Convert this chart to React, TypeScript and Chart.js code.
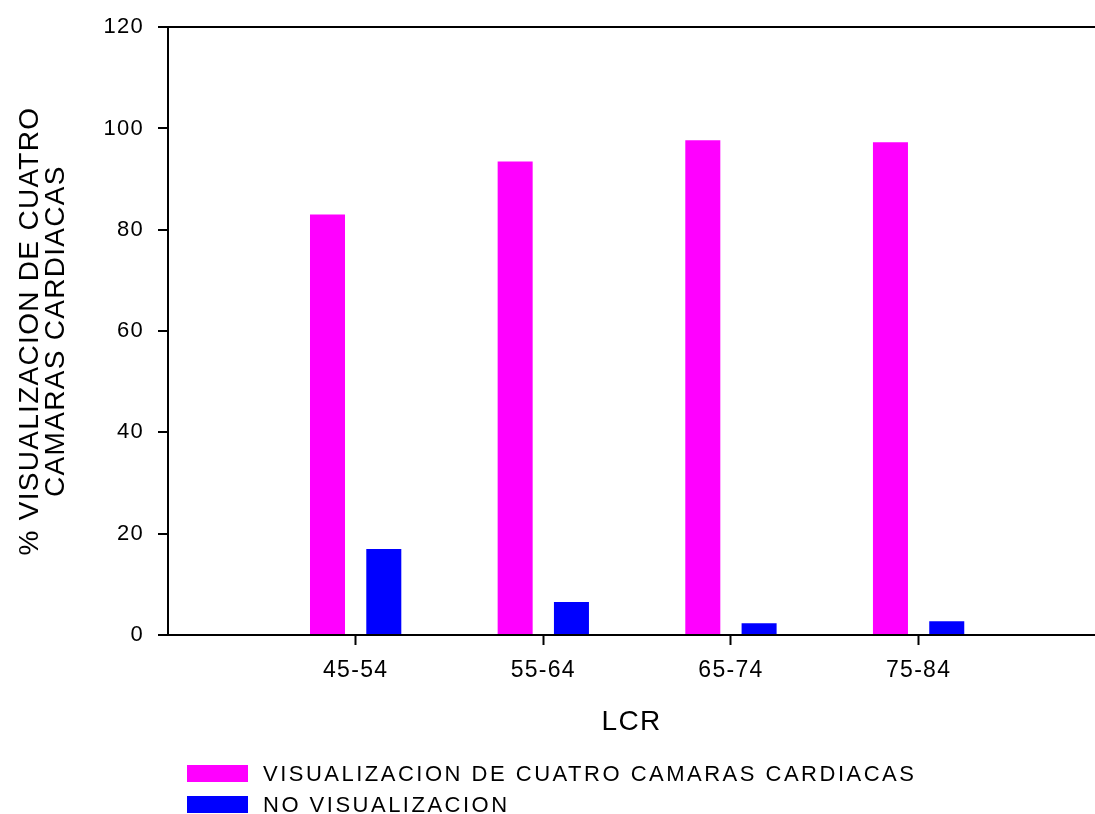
import React, { useEffect, useRef } from 'react';
import { Chart, registerables } from 'chart.js';

Chart.register(...registerables);

const categories = ['45-54', '55-64', '65-74', '75-84'];
const categoryPositions = [1, 2, 3, 4];
const visualizacion = [83, 93.5, 97.7, 97.3];
const noVisualizacion = [17, 6.5, 2.3, 2.7];
const yTickValues = [0, 20, 40, 60, 80, 100, 120];
const seriesLabels = ['VISUALIZACION DE CUATRO CAMARAS CARDIACAS', 'NO VISUALIZACION'];
const seriesColors = ['#FF00FF', '#0000FF'];
const yTitle = ['% VISUALIZACION DE CUATRO', 'CAMARAS CARDIACAS'];
const xTitle = 'LCR';

const FONT = '"Liberation Sans", Arial, Helvetica, sans-serif';

const spacingPlugin = {
  id: 'letterSpacing',
  beforeDraw(chart: any) {
    (chart.ctx as any).letterSpacing = '1.3px';
  },
};

const legendPlugin = {
  id: 'stackedLegend',
  afterDraw(chart: any) {
    const ctx = chart.ctx;
    const area = chart.chartArea;
    ctx.save();
    (ctx as any).letterSpacing = '2.5px';
    ctx.font = `22px ${FONT}`;
    ctx.textBaseline = 'middle';
    ctx.textAlign = 'left';
    chart.data.datasets.forEach((ds: any, i: number) => {
      const x = area.left + 19;
      const y = area.bottom + 130 + i * 31;
      ctx.fillStyle = ds.backgroundColor;
      ctx.fillRect(x, y, 61, 17);
      ctx.fillStyle = '#000';
      ctx.fillText(ds.label, x + 76, y + 10);
    });
    ctx.restore();
  },
};

export default function App() {
  const ref = useRef<HTMLCanvasElement | null>(null);

  useEffect(() => {
    document.body.style.margin = '0';
    const canvas = ref.current;
    if (!canvas) return;
    const makeData = (vals: number[]) => vals.map((v, i) => ({ x: categoryPositions[i], y: v }));
    const chart = new Chart(canvas, {
      type: 'bar',
      data: {
        datasets: [
          {
            label: seriesLabels[0],
            data: makeData(visualizacion),
            backgroundColor: seriesColors[0],
            borderWidth: 0,
            categoryPercentage: 0.6,
            barPercentage: 0.622,
          },
          {
            label: seriesLabels[1],
            data: makeData(noVisualizacion),
            backgroundColor: seriesColors[1],
            borderWidth: 0,
            categoryPercentage: 0.6,
            barPercentage: 0.622,
          },
        ],
      },
      options: {
        responsive: false,
        animation: false,
        devicePixelRatio: 1,
        layout: { padding: { top: 25, right: 0, bottom: 69, left: 0 } },
        plugins: {
          legend: { display: false },
          tooltip: { enabled: false },
          title: { display: false },
        },
        scales: {
          x: {
            type: 'linear',
            min: 0,
            max: 4.94,
            offset: false,
            afterBuildTicks: (scale: any) => {
              scale.ticks = categoryPositions.map((v) => ({ value: v }));
            },
            afterFit: (scale: any) => {
              scale.height = 110;
            },
            grid: {
              offset: false,
              drawOnChartArea: false,
              drawTicks: true,
              tickLength: 10,
              tickWidth: 2,
              tickColor: '#000',
            },
            border: { display: true, color: '#000', width: 2 },
            ticks: {
              autoSkip: false,
              maxRotation: 0,
              padding: 12,
              color: '#000',
              font: { family: FONT, size: 23 },
              callback: (v: any) => {
                const idx = categoryPositions.indexOf(Number(v));
                return idx >= 0 ? categories[idx] : '';
              },
            },
            title: {
              display: true,
              text: xTitle,
              color: '#000',
              font: { family: FONT, size: 28 },
              padding: { top: 0, bottom: 6 },
            },
          },
          y: {
            type: 'linear',
            min: 0,
            max: 120,
            afterBuildTicks: (scale: any) => {
              scale.ticks = yTickValues.map((v) => ({ value: v }));
            },
            afterFit: (scale: any) => {
              scale.width = 168;
            },
            grid: {
              drawOnChartArea: true,
              color: (c: any) => (c.tick && c.tick.value === 120 ? '#000' : 'rgba(0,0,0,0)'),
              lineWidth: 2,
              drawTicks: true,
              tickLength: 10,
              tickWidth: 2,
              tickColor: '#000',
            },
            border: { display: true, color: '#000', width: 2 },
            ticks: {
              padding: 14,
              color: '#000',
              font: { family: FONT, size: 22 },
            },
            title: {
              display: true,
              text: yTitle,
              color: '#000',
              font: { family: FONT, size: 28, lineHeight: 0.93 },
              padding: { top: 17, bottom: 0 },
            },
          },
        },
      },
      plugins: [spacingPlugin, legendPlugin],
    } as any);
    return () => chart.destroy();
  }, []);

  return <canvas ref={ref} width={1095} height={814} style={{ display: 'block' }} />;
}
